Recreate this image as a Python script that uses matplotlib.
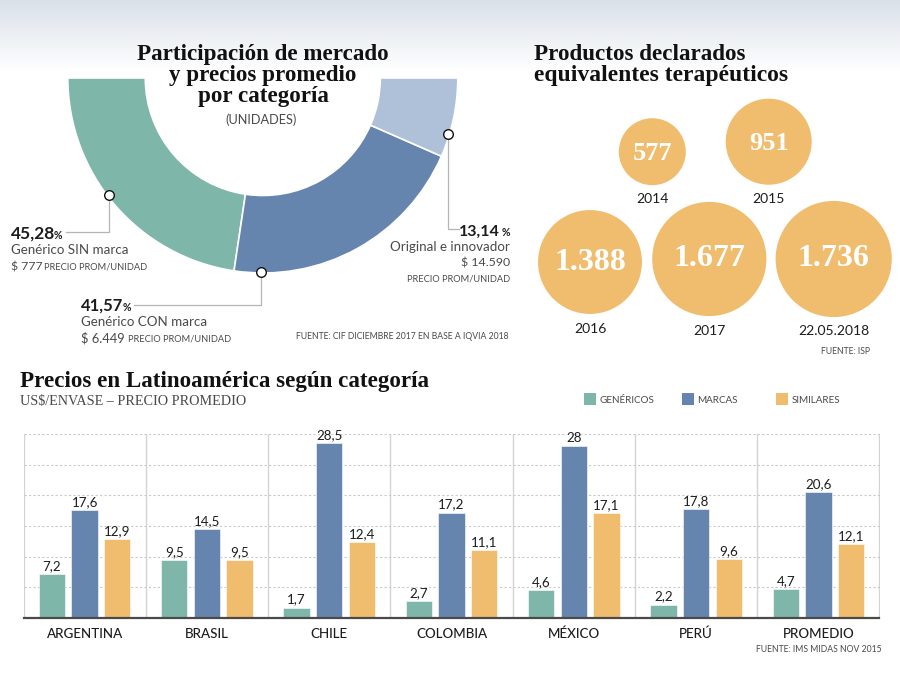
import numpy as np
import matplotlib
matplotlib.use("Agg")
import matplotlib.pyplot as plt
from matplotlib.patches import Rectangle

# ---- data ----
share_labels = ["Genérico SIN marca", "Genérico CON marca", "Original e innovador"]
share_values = [45.28, 41.57, 13.14]
years = ["2014", "2015", "2016", "2017", "22.05.2018"]
products = [577, 951, 1388, 1677, 1736]
products_txt = ["577", "951", "1.388", "1.677", "1.736"]
countries = ["ARGENTINA", "BRASIL", "CHILE", "COLOMBIA", "MÉXICO", "PERÚ", "PROMEDIO"]
genericos = [7.2, 9.5, 1.7, 2.7, 4.6, 2.2, 4.7]
marcas = [17.6, 14.5, 28.5, 17.2, 28, 17.8, 20.6]
similares = [12.9, 9.5, 12.4, 11.1, 17.1, 9.6, 12.1]

# ---- styles / layout ----
GREEN, BLUE, LIGHT, ORANGE = "#7fb6aa", "#6585ae", "#afc1d8", "#f0bc6d"
SERIF = "Liberation Serif"
SANS = "Lato"
INK, GREY = "#1c1c1c", "#4a4a4a"
W, H = 900, 675
bubble_x = [652.3, 768.7, 590, 709.3, 833.7]
bubble_y = [151.7, 141.7, 262, 259, 259]
year_y = [203, 203, 333, 335, 335]

fig = plt.figure(figsize=(9, 6.75), dpi=100, facecolor="white")

def axes_px(x0, y0, x1, y1, **kw):
    return fig.add_axes([x0 / W, 1 - y1 / H, (x1 - x0) / W, (y1 - y0) / H], **kw)

# background gradient
bg = axes_px(0, 0, W, 72)
grad = np.linspace(0, 1, 72)[:, None]
top, bot = np.array([0.855, 0.882, 0.914]), np.array([1.0, 1.0, 1.0])
bg.imshow((top + (bot - top) * grad[..., None]).reshape(72, 1, 3), aspect="auto")
bg.axis("off")

# donut
cx, cy, R = 262.8, 78, 195
don = axes_px(cx - R, cy - R, cx + R, cy + R)
don.pie(share_values + [sum(share_values)], colors=[GREEN, BLUE, LIGHT, "none"],
        startangle=180, counterclock=True, radius=1,
        wedgeprops=dict(width=1 - 117.5 / 195, linewidth=0))
wd = don.patches
for p in wd[:3]:
    p.set(edgecolor="white", linewidth=1.2)
wd[3].set(edgecolor="none", linewidth=0)
don.set_xlim(-1, 1)
don.set_ylim(-1, 1)
don.axis("off")
for p in wd:
    p.set_clip_on(False)

# bars
ax = axes_px(23.5, 434.2, 879.5, 618)
x = np.arange(len(countries))
off, bw = 0.267, 0.2155
series = [(genericos, GREEN, -off), (marcas, BLUE, 0), (similares, ORANGE, off)]
for vals, col, d in series:
    b = ax.bar(x + d, vals, bw, color=col, edgecolor="white", linewidth=0.4, zorder=3)
    ax.bar_label(b, labels=[f"{v:g}".replace(".", ",") for v in vals], padding=1.5,
                 fontsize=9.6, color=INK, family=SANS, zorder=5, clip_on=False)
ax.set_xlim(-0.5, 6.5)
ax.set_ylim(0, 30)
ax.set_yticks(np.arange(0, 31, 5))
ax.set_xticks(x)
ax.set_xticklabels(countries, fontsize=9.6, family=SANS, color=INK, fontweight="medium")
ax.set_xticks(np.arange(-0.5, 7), minor=True)
ax.tick_params(axis="both", which="both", length=0)
ax.tick_params(axis="x", which="major", pad=7)
ax.tick_params(axis="y", labelleft=False)
ax.grid(axis="y", which="major", color="#c9c9c9", linestyle=(0, (2, 2)), linewidth=0.8, zorder=0)
ax.grid(axis="x", which="minor", color="#d4d4d4", linewidth=1, zorder=0)
ax.set_axisbelow(True)
for s in ("top", "left", "right"):
    ax.spines[s].set_visible(False)
ax.spines["bottom"].set_color("#4a4a4a")
ax.spines["bottom"].set_linewidth(1.6)
ax.spines["bottom"].set_zorder(6)

# overlay in pixel coordinates
ov = axes_px(0, 0, W, H)
ov.set_xlim(0, W)
ov.set_ylim(H, 0)
ov.axis("off")
ov.patch.set_alpha(0)

def T(x_, y_, s, size, fam=SANS, color=INK, w="normal", ha="left"):
    ov.text(x_, y_, s, fontsize=size, family=fam, color=color, fontweight=w, ha=ha, va="baseline")

# titles
for y_, s in zip((60, 81, 102), ("Participación de mercado", "y precios promedio", "por categoría")):
    T(263, y_, s, 16.6, SERIF, "#111111", "bold", "center")
T(261.5, 124, "(UNIDADES)", 9.2, color=GREY, ha="center")
T(534, 60, "Productos declarados", 16.6, SERIF, "#111111", "bold")
T(534, 81, "equivalentes terapéuticos", 17, SERIF, "#111111", "bold")
T(20, 387, "Precios en Latinoamérica según categoría", 16.6, SERIF, "#111111", "bold")
T(20, 405, "US$/ENVASE – PRECIO PROMEDIO", 10.2, SERIF, GREY)

# callouts
LN = "#b5b5b5"
ov.plot([109, 109, 66], [195, 232, 232], color=LN, lw=0.9)
ov.plot([261, 261, 134], [272, 305, 305], color=LN, lw=0.9)
ov.plot([448, 448, 459], [134, 229, 229], color=LN, lw=0.9)
ov.scatter([109, 261, 448], [195, 272, 134], s=48, facecolor="white", edgecolor="#111111", linewidth=1, zorder=5)

T(11, 239, "45,28", 12.5, w="bold")
T(54, 239, "%", 7.6, w="bold")
T(11, 254, share_labels[0], 9.6, color=GREY)
T(11, 270, "$ 777", 8.8, color=GREY)
T(44, 270, "PRECIO PROM/UNIDAD", 6.7, color=GREY)

T(81, 311, "41,57", 12, w="bold")
T(122.5, 311, "%", 7.6, w="bold")
T(81, 326, share_labels[1], 9.6, color=GREY)
T(81, 342, "$ 6.449", 9.3, color=GREY)
T(128, 342, "PRECIO PROM/UNIDAD", 6.7, color=GREY)

T(499.5, 236, "13,14", 11.5, w="bold", ha="right")
T(510, 236, "%", 7.6, w="bold", ha="right")
T(510, 251, share_labels[2], 9.6, color=GREY, ha="right")
T(510, 267, "$ 14.590", 8.9, color=GREY, ha="right")
T(510, 281, "PRECIO PROM/UNIDAD", 6.7, color=GREY, ha="right")
T(509, 339, "FUENTE: CIF DICIEMBRE 2017 EN BASE A IQVIA 2018", 6.2, color=GREY, ha="right")

# bubbles: area proportional to the value
ov.scatter(bubble_x, bubble_y, s=np.array(products) * 4.03, color=ORANGE, linewidth=0, zorder=2)
for bx, by, v, t, yy, val in zip(bubble_x, bubble_y, products_txt, years, year_y, products):
    T(bx, by + (8 if val < 1000 else 7.5), v, 19 if val < 1000 else 23, SERIF, "white", "bold", "center")
    T(bx, yy, t, 10, color=INK, ha="center")
T(870, 354, "FUENTE: ISP", 6.2, color=GREY, ha="right")

# legend
for lx, lab, col in zip((584, 682, 776), ("GENÉRICOS", "MARCAS", "SIMILARES"), (GREEN, BLUE, ORANGE)):
    ov.add_patch(Rectangle((lx, 393), 12, 12, facecolor=col, edgecolor="none"))
    T(lx + 15.5, 403, lab, 7.1, color=GREY)

T(882, 652, "FUENTE: IMS MIDAS NOV 2015", 6.2, color=GREY, ha="right")

fig.savefig("out.png", dpi=100, facecolor="white")
